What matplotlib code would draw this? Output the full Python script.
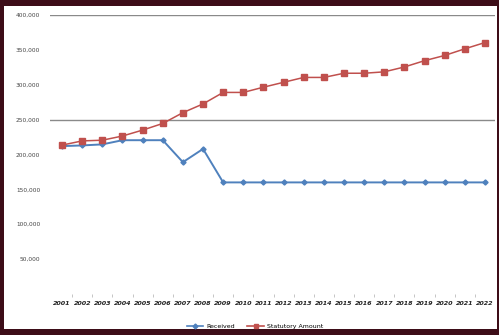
import matplotlib
matplotlib.use("Agg")
import matplotlib.pyplot as plt
from matplotlib.patches import Rectangle
from matplotlib.lines import Line2D
import numpy as np

years = [str(y) for y in range(2001, 2023)]
received = [212000, 213000, 214500, 220500, 220500, 220500, 189000, 208000,
            160000, 160000, 160000, 160000, 160000, 160000, 160000, 160000,
            160000, 160000, 160000, 160000, 160000, 160000]
statutory = [213500, 219500, 220500, 226500, 235000, 244500, 260000, 272500,
             289000, 289000, 296500, 303500, 310500, 310500, 316500, 316500,
             318500, 325500, 334500, 342000, 351500, 360500]
yticks = [50000, 100000, 150000, 200000, 250000, 300000, 350000, 400000]
grid_values = [250000, 400000]

W, H = 499, 335
fig = plt.figure(figsize=(W / 100, H / 100), dpi=100)
fig.patch.set_facecolor("#3d0d18")
bg = fig.add_axes([0, 0, 1, 1], zorder=0)
bg.set_axis_off()
bg.set_xlim(0, W)
bg.set_ylim(0, H)
bg.add_patch(Rectangle((4, 6), 493, 323, facecolor="white", edgecolor="none"))

ax = fig.add_axes([50 / W, (H - 294) / H, 445 / W, 279 / H], zorder=2)
ax.set_facecolor("none")
x = np.arange(len(years))
ax.plot(x, received, color="#4F81BD", lw=1.4, marker="D", ms=2.6,
        markerfacecolor="#4F81BD", markeredgecolor="#4F81BD", zorder=3)
ax.plot(x, statutory, color="#C0504D", lw=1.1, marker="s", ms=4.3,
        markerfacecolor="#C0504D", markeredgecolor="#C0504D", zorder=3)
for g in grid_values:
    ax.axhline(g, color="#8a8a8a", lw=1.0, zorder=1)

ax.set_xlim(-0.6, len(years) - 0.5)
ax.set_ylim(0, 400000)
ax.set_yticks(yticks)
ax.set_yticklabels([f"{v:,}" for v in yticks], fontsize=4.2, color="#444444")
ax.set_xticks(x)
ax.set_xticklabels(years, fontsize=4.6, style="italic", fontweight="bold",
                   color="#222222")
ax.set_xticks(np.arange(len(years) - 1) + 0.5, minor=True)
ax.tick_params(axis="x", which="major", length=0, pad=5)
ax.tick_params(axis="x", which="minor", length=2, color="#bbbbbb", width=0.6)
ax.tick_params(axis="y", length=0, pad=7)
for s in ax.spines.values():
    s.set_visible(False)

handles = [Line2D([], [], color="#4F81BD", lw=1.2, marker="D", ms=2.5),
           Line2D([], [], color="#C0504D", lw=1.2, marker="s", ms=3)]
leg = fig.legend(handles, ["Received", "Statutory Amount"], loc="center",
                 bbox_to_anchor=(255 / W, (H - 326) / H), ncol=2, frameon=False,
                 fontsize=4.5, handlelength=2.6, columnspacing=2.0,
                 handletextpad=0.5)
leg.set_zorder(3)

fig.savefig("out.png", dpi=100, facecolor=fig.get_facecolor())
